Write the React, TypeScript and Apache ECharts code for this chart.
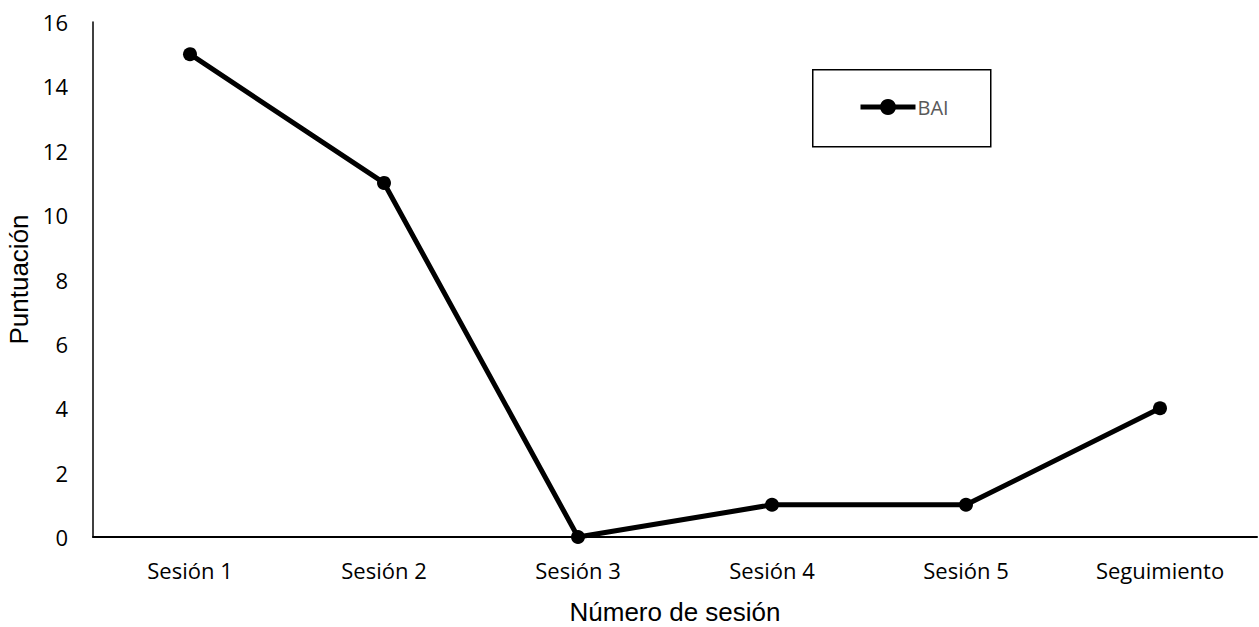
import React, { useEffect, useRef } from "react";
import * as echarts from "echarts";

const sessions = ["Sesión 1", "Sesión 2", "Sesión 3", "Sesión 4", "Sesión 5", "Seguimiento"];
const baiScores = [15, 11, 0, 1, 1, 4];
const seriesName = "BAI";

export default function App() {
  const ref = useRef<HTMLDivElement>(null);

  useEffect(() => {
    if (!ref.current) return;
    const chart = echarts.init(ref.current, null, { renderer: "svg" });
    chart.setOption({
      animation: false,
      backgroundColor: "#ffffff",
      grid: {
        left: 93,
        right: 2,
        top: 22,
        bottom: 90,
        containLabel: false,
        outerBoundsMode: "none",
      },
      graphic: [
        {
          type: "rect",
          left: 812,
          top: 69,
          shape: { width: 178, height: 77 },
          style: { fill: "#ffffff", stroke: "#000000", lineWidth: 1.5 },
          z: 1,
        },
      ],
      legend: {
        left: 858,
        top: 97,
        padding: 0,
        itemWidth: 55,
        itemHeight: 20,
        lineStyle: { width: 5 },
        textStyle: { color: "#595959", fontSize: 20, fontFamily: "Open Sans", padding: [0, 0, 0, -3] },
        data: [seriesName],
        z: 5,
      },
      xAxis: {
        type: "category",
        data: sessions,
        boundaryGap: true,
        name: "Número de sesión",
        nameLocation: "middle",
        nameGap: 62,
        nameTextStyle: { fontSize: 26, color: "#000000", fontFamily: "Liberation Sans" },
        axisLine: { lineStyle: { color: "#000000", width: 2 } },
        axisTick: { show: false },
        axisLabel: { fontSize: 22, color: "#000000", fontFamily: "Open Sans", margin: 22 },
        splitLine: { show: false },
      },
      yAxis: {
        type: "value",
        min: 0,
        max: 16,
        interval: 2,
        name: "Puntuación",
        nameLocation: "middle",
        nameGap: 57,
        nameTextStyle: { fontSize: 26, color: "#000000", fontFamily: "Liberation Sans" },
        axisLine: { show: true, lineStyle: { color: "#000000", width: 1.5 } },
        axisTick: { show: false },
        axisLabel: { fontSize: 22, color: "#000000", fontFamily: "Open Sans", margin: 25 },
        splitLine: { show: false },
      },
      series: [
        {
          name: seriesName,
          type: "line",
          data: baiScores,
          symbol: "circle",
          symbolSize: 14,
          lineStyle: { color: "#000000", width: 5 },
          itemStyle: { color: "#000000" },
          z: 3,
        },
      ],
    });
    return () => chart.dispose();
  }, []);

  return (
    <div
      ref={ref}
      style={{ position: "absolute", left: 0, top: 0, width: 1259, height: 627 }}
    />
  );
}
